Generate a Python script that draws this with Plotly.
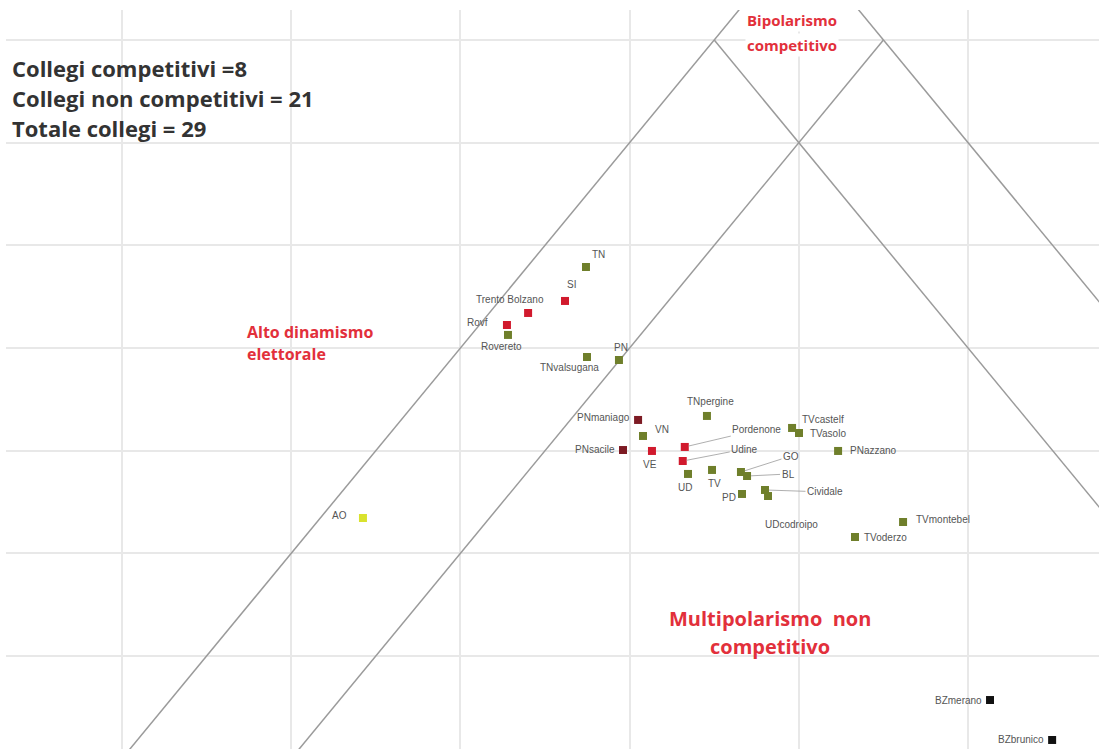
import plotly.graph_objects as go

# ---------------- data ----------------
collegi = ["TN", "SI", "Trento Bolzano", "Rovf", "Rovereto", "TNvalsugana", "PN", "AO",
           "PNmaniago", "VN", "PNsacile", "VE", "TNpergine", "Pordenone", "Udine",
           "UD", "TV", "GO", "BL", "PD", "Cividale", "UDcodroipo",
           "TVcastelf", "TVasolo", "PNazzano", "TVmontebel", "TVoderzo",
           "BZmerano", "BZbrunico"]
x_val = [3.742, 3.618, 3.400, 3.275, 3.281, 3.748, 3.937, 2.424,
         4.050, 4.079, 3.961, 4.132, 4.457, 4.326, 4.314,
         4.345, 4.487, 4.658, 4.694, 4.664, 4.800, 4.818,
         4.960, 5.001, 5.232, 5.616, 5.332,
         6.130, 6.497]
y_val = [3.789, 3.458, 3.341, 3.224, 3.127, 2.912, 2.883, 1.344,
         2.299, 2.143, 2.006, 1.997, 2.338, 2.036, 1.899,
         1.773, 1.812, 1.792, 1.753, 1.578, 1.617, 1.558,
         2.221, 2.172, 1.997, 1.305, 1.159,
         -0.429, -0.818]
gruppo = ["nc", "c", "c", "c", "nc", "nc", "nc", "ao",
          "cd", "nc", "cd", "c", "nc", "c", "c",
          "nc", "nc", "nc", "nc", "nc", "nc", "nc",
          "nc", "nc", "nc", "nc", "nc",
          "bz", "bz"]

# boundary lines of the zones (endpoints, data units)
bordi_x = [[0.5, 5.0], [1.5, 5.5], [4.5, 8.5], [5.0, 9.5]]
bordi_y = [[-2.0, 7.0], [-2.0, 6.0], [6.0, -2.0], [7.0, -2.0]]

testo_riassunto = ["Collegi competitivi =8", "Collegi non competitivi = 21", "Totale collegi = 29"]

# ---------------- styles ----------------
colori = {"c": "#d11a2d", "cd": "#7d1b24", "nc": "#6f7f2b", "ao": "#d9e22e", "bz": "#111111"}
# label placement: (dx px, dy px (down), xanchor, leader)
pos = [(4, -12, "left", False), (0, -16, "left", False), (-18, -13, "center", False),
       (-17, -2, "right", False), (-6, 12, "center", False), (-17, 10, "center", False),
       (2, -12, "center", False), (-14, -3, "right", False),
       (-6, -2, "right", False), (10, -6, "left", False), (-6, -1, "right", False),
       (-2, 14, "center", False), (4, -14, "center", False),
       (72, -17, "center", True), (62, -12, "center", True),
       (-3, 14, "center", False), (2, 14, "center", False),
       (50, -16, "center", True), (41, -2, "center", True), (-4, 4, "right", False),
       (60, 2, "center", True), (23, 28, "center", False),
       (8, -8, "left", False), (9, 1, "left", False), (10, 0, "left", False),
       (11, -3, "left", False), (7, 1, "left", False),
       (-6, 0, "right", False), (-6, 0, "right", False)]

W, H = 1099, 749
fig = go.Figure()

for bx, by in zip(bordi_x, bordi_y):
    fig.add_trace(go.Scatter(x=bx, y=by, mode="lines",
                             line=dict(color="#9b9b9b", width=1.5),
                             hoverinfo="skip", showlegend=False))

fig.add_trace(go.Scatter(x=x_val, y=y_val, mode="markers",
                         marker=dict(symbol="square", size=8,
                                     color=[colori[g] for g in gruppo]),
                         text=collegi, hoverinfo="text", showlegend=False))

lab_font = dict(family="Liberation Sans, Arial, sans-serif", size=10, color="#555555")
for name, xv, yv, (dx, dy, xa, leader) in zip(collegi, x_val, y_val, pos):
    if leader:
        fig.add_annotation(x=xv, y=yv, text=name, showarrow=True, ax=dx, ay=dy,
                           arrowhead=0, arrowwidth=0.8, arrowcolor="#9a9a9a",
                           standoff=4, font=lab_font)
    else:
        fig.add_annotation(x=xv, y=yv, text=name, showarrow=False,
                           xanchor=xa, yanchor="middle", xshift=dx, yshift=-dy,
                           font=lab_font)

# summary text
for t, yy in zip(testo_riassunto, [5.727, 5.435, 5.143]):
    fig.add_annotation(x=0.338, y=yy, text="<b>" + t + "</b>", showarrow=False,
                       xanchor="left", yanchor="middle",
                       font=dict(family="Open Sans, sans-serif", size=22, color="#333333"))

red = "#e2303b"
red_font_s = dict(family="Open Sans, sans-serif", size=15, color=red)
red_font_m = dict(family="Open Sans, sans-serif", size=16, color=red)
red_font_l = dict(family="Open Sans, sans-serif", size=20, color=red)
fig.add_annotation(x=4.96, y=6.195, text="<b>Bipolarismo</b>", showarrow=False,
                   font=red_font_s, bgcolor="white")
fig.add_annotation(x=4.96, y=5.951, text="<b>competitivo</b>", showarrow=False,
                   font=red_font_s, bgcolor="white")
fig.add_annotation(x=1.727, y=3.156, text="<b>Alto dinamismo</b>", showarrow=False,
                   xanchor="left", font=red_font_m)
fig.add_annotation(x=1.727, y=2.941, text="<b>elettorale</b>", showarrow=False,
                   xanchor="left", font=red_font_m)
fig.add_annotation(x=4.830, y=0.370, text="<b>Multipolarismo  non</b>", showarrow=False,
                   font=red_font_l)
fig.add_annotation(x=4.830, y=0.097, text="<b>competitivo</b>", showarrow=False,
                   font=red_font_l)

axis_common = dict(showticklabels=False, ticks="", showline=False, zeroline=False,
                   showgrid=True, gridcolor="#e8e8e8", gridwidth=2, dtick=1, tick0=0,
                   fixedrange=True)
fig.update_layout(
    width=W, height=H,
    margin=dict(l=6, r=0, t=10, b=0),
    paper_bgcolor="white", plot_bgcolor="white",
    xaxis=dict(range=[0.3144, 6.774], **axis_common),
    yaxis=dict(range=[-0.906, 6.292], **axis_common),
    showlegend=False,
)

fig.write_html("out.html", config={"displayModeBar": False},
               post_script="document.body.style.margin='0px';")
